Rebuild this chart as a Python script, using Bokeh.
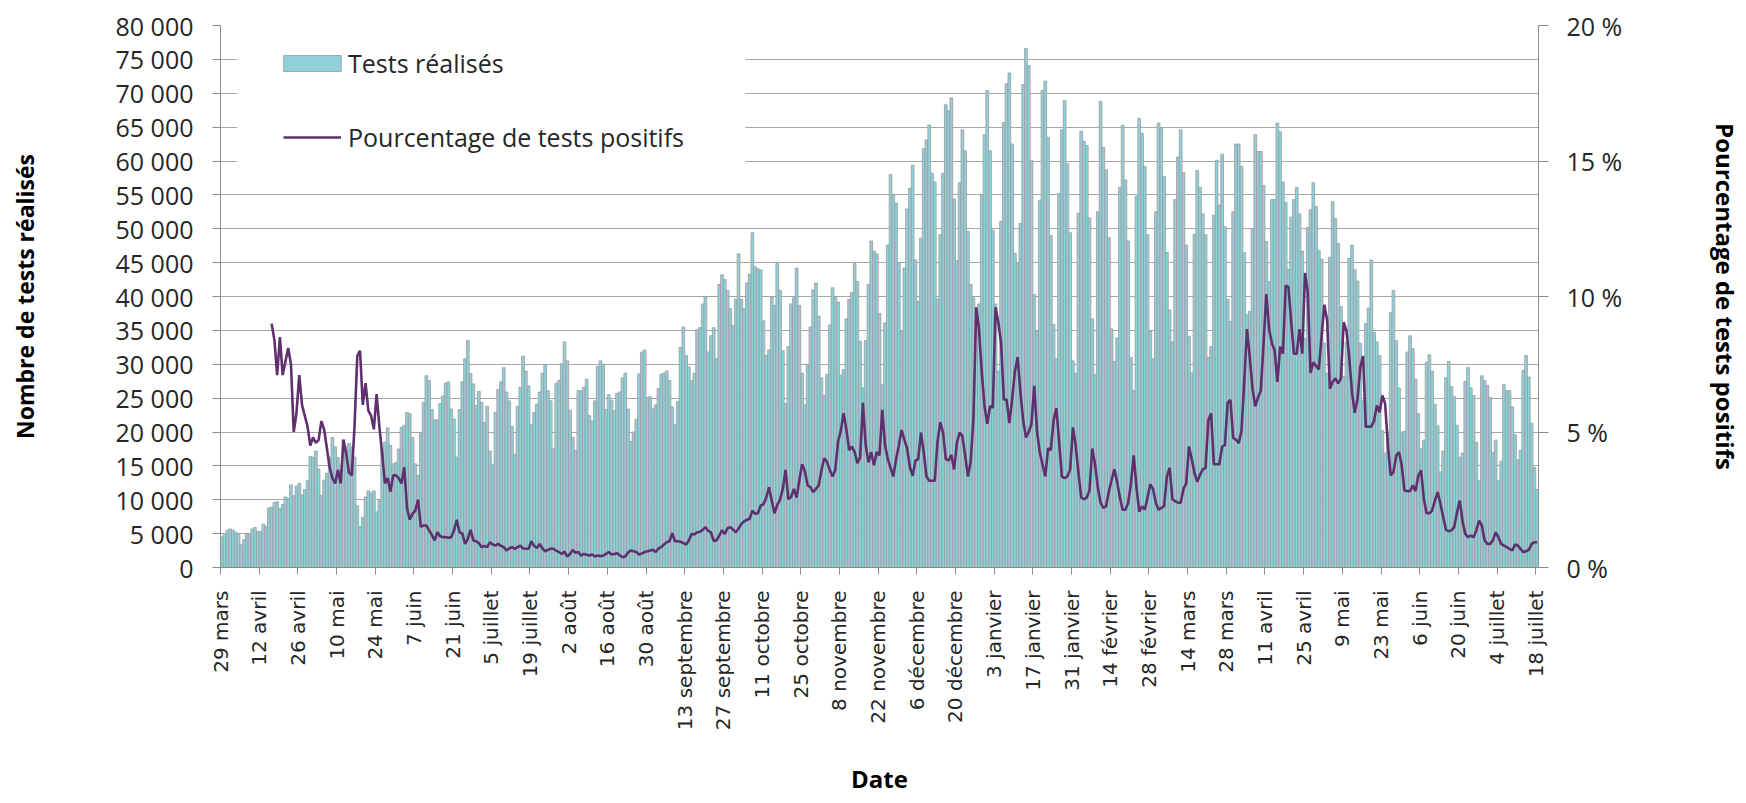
import math
from bokeh.plotting import figure
from bokeh.models import (Range1d, LinearAxis, FixedTicker, Legend, LegendItem,
                          BoxAnnotation, ColumnDataSource)
from bokeh.embed import file_html
from bokeh.resources import INLINE

# ---------------- DATA (daily, starting 29 March 2020) ----------------
tests_mar_may_2020 = [4500, 5000, 5500, 5700, 5500, 5200, 4900, 3400, 4100, 4900,
                      5000, 5700, 5900, 5300, 5300, 6400, 6100, 8800, 8900, 9600,
                      9700, 8700, 9300, 10400, 10200, 12200, 10600, 12000, 12400, 10700,
                      11500, 12800, 16400, 16300, 17200, 14500, 10600, 12900, 13900, 16300,
                      19200, 17800, 16200, 14500, 18900, 17900, 18300, 17800, 16300, 9100,
                      6000, 7400, 10400, 11300, 11000, 11300, 8200, 9900]
tests_may_jun_2020 = [17500, 18500, 20600, 18000, 15300, 15500, 17500, 20700, 21000, 22900, 22700]
tests_jun_aug_2020 = [19200, 15300, 13600, 19800, 24400, 28300, 27600, 23300, 21800, 21800,
                      24200, 25300, 27200, 27400, 23400, 21900, 16300, 23300, 27400, 30800,
                      33500, 28600, 27100, 23900, 26000, 24400, 21400, 23800, 17200, 15200,
                      22900, 26300, 27400, 29500, 25900, 24600, 20800, 16700, 23800, 26600,
                      31200, 29000, 26800, 21100, 22900, 24100, 25900, 28700, 29900, 26100,
                      24600, 17500, 27200, 27600, 30100, 33300, 30500, 23200, 19200, 17300,
                      26100, 26100, 26600, 27800, 22400, 21600, 24600, 29700]
tests_aug_oct_2020 = [30500, 30000, 23300, 25500, 24700, 23200, 25700, 25900, 28000, 28700,
                      23400, 18600, 20000, 21900, 28600, 31800, 32100, 25100, 25200, 23400,
                      24000, 26400, 28500, 28700, 29000, 27600, 23700, 21100, 24500, 32500,
                      35500, 31300, 29600, 27600, 28700, 35100, 35400, 38900, 40000, 31800,
                      34200, 35400, 30800, 41800, 43200, 42500, 40900, 38200, 35700, 39600,
                      46300, 39600, 38200, 42000, 43300, 49400, 44400, 44100, 43900, 36400,
                      31300, 32100, 39900, 38700, 44900, 40900, 32000, 24200]
tests_oct_dec_2020 = [32600, 38900, 39800, 44200, 38700, 28700, 24000, 30000, 35500, 41000,
                      42000, 37100, 28000, 25400, 28500, 35800, 41300, 39900, 39200, 28400,
                      29200, 36700, 39600, 40600, 44900, 42200, 33400, 26500, 33500, 41800,
                      48200, 46700, 46300, 37500, 27000, 36100, 47600, 58000, 55000, 53800,
                      45000, 34900, 44200, 52900, 56000, 59400, 45400, 39300, 48600, 61800,
                      63100, 65300, 58200, 56900, 39600, 49100, 58200, 68300, 67400, 69300,
                      54400, 45300, 56800, 64600, 61500, 49600, 41800, 39800, 35000]
tests_dec_mar_2021 = [38900, 55000, 63900, 70400, 61500, 49800, 38900, 29000, 51100, 65700,
                      71400, 73000, 62500, 46400, 45000, 50800, 71300, 76600, 74100, 60100,
                      40300, 34900, 54200, 70400, 71800, 63500, 49000, 35900, 30800, 55200,
                      64600, 68900, 59600, 49400, 30500, 28700, 52300, 64400, 62900, 62300,
                      51600, 36700, 28500, 52500, 68800, 62000, 58700, 48700, 35200, 30400,
                      33900, 56100, 65300, 57200, 48200, 31000, 26100, 54800, 66300, 64100,
                      59200, 49100, 34900, 30800, 52500, 65600, 64900, 57700, 46500]
tests_mar_may_2021 = [38000, 33300, 54300, 60600, 64600, 58300, 47600, 34100, 28700, 49200,
                      58600, 56100, 52200, 49100, 31000, 32600, 52000, 60100, 53500, 61000,
                      50300, 39600, 36300, 52500, 62500, 62500, 59200, 46500, 37300, 37800,
                      49900, 63900, 61400, 61400, 56400, 48100, 42200, 54300, 54300, 65600,
                      64300, 56900, 53900, 44000, 51700, 54300, 56100, 52200, 46700, 33800,
                      50200, 52800, 56800, 53300, 46800, 45500, 33100, 28700, 45800, 54000,
                      51500, 47800, 38500, 28200, 33300, 45600, 47600, 44000, 42300]
tests_may_jul_2021 = [33100, 24600, 36000, 38300, 45400, 34700, 33300, 31300, 20200, 16900,
                      20000, 37600, 40900, 33500, 26500, 20000, 20100, 31800, 34200, 32300,
                      27800, 22700, 17500, 18800, 30300, 31400, 29000, 24100, 20900, 14100,
                      17200, 28000, 30400, 26700, 25200, 21000, 16300, 16900, 27500, 29500,
                      26500, 25400, 18500, 12800, 28300, 27600, 26900, 25100, 17000, 18800,
                      12800, 15700, 27000, 26100, 26100, 23700, 19600, 15900, 17300, 29100,
                      31300, 28100, 21300, 14800, 11500]

# percentage of positive tests, starting 16 April 2020 (day 18)
pct_first_day = 18
pct_apr_may_2020 = [9.0, 8.4, 7.1, 8.5, 7.1, 7.6, 8.1, 7.5, 5.0, 5.7,
                    7.1, 6.0, 5.6, 5.2, 4.5, 4.8, 4.6, 4.7, 5.4, 5.1,
                    4.4, 3.7, 3.3, 3.1, 3.6, 3.1, 4.7, 4.2, 3.5, 3.4,
                    5.2, 7.8, 8.0, 6.0, 6.8, 5.8, 5.6, 5.1, 6.4, 5.2,
                    4.2, 3.1, 3.3, 2.8, 3.4, 3.4, 3.3, 3.1, 3.7, 2.2]
pct_jun_aug_2020 = [1.76, 1.98, 2.1, 2.5, 1.5, 1.55, 1.55, 1.37, 1.2, 1.0,
                    1.3, 1.15, 1.12, 1.12, 1.1, 1.12, 1.37, 1.76, 1.3, 1.26,
                    0.87, 1.06, 1.39, 1.0, 0.97, 0.9, 0.75, 0.8, 0.75, 0.93,
                    0.85, 0.81, 0.87, 0.8, 0.75, 0.63, 0.7, 0.75, 0.69, 0.75,
                    0.81, 0.7, 0.69, 0.69, 0.97, 0.8, 0.72, 0.87, 0.7, 0.6,
                    0.65, 0.69, 0.69, 0.62, 0.57, 0.5, 0.59, 0.4, 0.5, 0.65,
                    0.54, 0.57, 0.44, 0.5, 0.47, 0.44, 0.48, 0.41, 0.44]
pct_aug_oct_2020 = [0.42, 0.44, 0.5, 0.57, 0.48, 0.5, 0.53, 0.45, 0.38, 0.41,
                    0.55, 0.63, 0.6, 0.57, 0.48, 0.52, 0.57, 0.6, 0.63, 0.65,
                    0.57, 0.7, 0.75, 0.85, 0.93, 0.97, 1.27, 0.97, 0.97, 0.95,
                    0.9, 0.85, 1.0, 1.24, 1.22, 1.3, 1.32, 1.39, 1.49, 1.35,
                    1.3, 0.98, 1.0, 1.18, 1.37, 1.24, 1.45, 1.49, 1.4, 1.3,
                    1.43, 1.61, 1.7, 1.76, 1.8, 2.1, 1.98, 2.0, 2.29, 2.33,
                    2.57, 2.96, 2.47, 2.0, 2.31, 2.5, 2.9, 3.6]
pct_oct_dec_2020 = [2.52, 2.6, 2.9, 2.58, 3.23, 3.81, 3.55, 3.03, 2.97, 2.78,
                    2.9, 3.03, 3.6, 4.03, 3.9, 3.6, 3.36, 3.6, 4.65, 5.04,
                    5.69, 5.1, 4.33, 4.46, 4.26, 3.85, 4.07, 6.08, 4.52, 3.88,
                    4.26, 3.77, 4.26, 4.14, 5.82, 4.52, 4.0, 3.68, 3.36, 4.0,
                    4.5, 5.07, 4.72, 4.39, 3.7, 3.38, 3.94, 4.0, 4.98, 4.26,
                    3.36, 3.2, 3.2, 3.2, 4.65, 5.36, 4.98, 4.0, 3.95, 4.16,
                    3.62, 4.59, 4.98, 4.85, 4.14, 3.36, 3.9, 5.5, 9.6]
pct_dec_mar_2021 = [8.8, 7.24, 5.95, 5.3, 5.95, 5.9, 9.6, 9.05, 8.28, 6.2,
                    6.2, 5.33, 6.2, 7.24, 7.76, 6.47, 5.43, 4.8, 5.0, 5.3,
                    6.7, 5.04, 4.26, 3.8, 3.36, 4.4, 4.33, 5.43, 5.88, 4.65,
                    3.36, 3.3, 3.36, 3.62, 5.17, 4.52, 3.49, 2.58, 2.52, 2.58,
                    2.84, 4.39, 3.81, 2.97, 2.39, 2.2, 2.26, 2.8, 3.23, 3.62,
                    3.16, 2.58, 2.13, 2.13, 2.39, 3.1, 4.14, 2.97, 2.06, 2.26,
                    2.13, 2.58, 3.07, 2.9, 2.39, 2.13, 2.2, 2.26, 3.36]
pct_mar_may_2021 = [3.68, 2.52, 2.45, 2.39, 2.39, 2.9, 3.1, 4.46, 4.0, 3.49,
                    3.16, 3.42, 3.62, 3.68, 5.43, 5.69, 3.81, 3.81, 3.81, 4.46,
                    4.52, 6.08, 6.18, 4.78, 4.72, 4.59, 5.04, 6.85, 8.8, 7.76,
                    6.6, 5.95, 6.27, 6.53, 8.28, 10.09, 8.8, 8.28, 8.02, 6.85,
                    8.15, 7.89, 10.4, 10.35, 9.05, 7.89, 7.89, 8.8, 7.89, 10.87,
                    10.15, 7.18, 7.57, 7.44, 7.31, 8.54, 9.7, 9.12, 6.6, 6.85,
                    6.98, 6.79, 6.98, 9.05, 8.73, 7.76, 6.47, 5.71, 6.21]
pct_may_jul_2021 = [7.39, 7.8, 5.2, 5.2, 5.2, 5.42, 5.98, 5.73, 6.35, 6.04,
                    4.5, 3.4, 3.52, 4.13, 4.26, 3.76, 2.84, 2.82, 2.82, 3.03,
                    2.82, 3.39, 3.58, 2.53, 2.0, 2.0, 2.1, 2.47, 2.78, 2.35,
                    1.86, 1.39, 1.34, 1.37, 1.49, 2.04, 2.47, 1.71, 1.24, 1.12,
                    1.18, 1.12, 1.37, 1.73, 1.55, 1.0, 0.87, 0.87, 1.0, 1.3,
                    1.12, 0.87, 0.81, 0.75, 0.69, 0.63, 0.85, 0.81, 0.69, 0.57,
                    0.6, 0.65, 0.87, 0.93, 0.93]

date_labels = ["29 mars", "12 avril", "26 avril", "10 mai", "24 mai", "7 juin", "21 juin",
               "5 juillet", "19 juillet", "2 août", "16 août", "30 août", "13 septembre",
               "27 septembre", "11 octobre", "25 octobre", "8 novembre", "22 novembre",
               "6 décembre", "20 décembre", "3 janvier", "17 janvier", "31 janvier",
               "14 février", "28 février", "14 mars", "28 mars", "11 avril", "25 avril",
               "9 mai", "23 mai", "6 juin", "20 juin", "4 juillet", "18 juillet"]
date_label_step = 14

left_ticks = [0, 5000, 10000, 15000, 20000, 25000, 30000, 35000, 40000, 45000,
              50000, 55000, 60000, 65000, 70000, 75000, 80000]
left_labels = ["0", "5 000", "10 000", "15 000", "20 000", "25 000", "30 000", "35 000",
               "40 000", "45 000", "50 000", "55 000", "60 000", "65 000", "70 000",
               "75 000", "80 000"]
right_ticks = [0, 5, 10, 15, 20]
right_labels = ["0 %", "5 %", "10 %", "15 %", "20 %"]

# ---------------- BUILD ----------------
tests = (tests_mar_may_2020 + tests_may_jun_2020 + tests_jun_aug_2020 + tests_aug_oct_2020
         + tests_oct_dec_2020 + tests_dec_mar_2021 + tests_mar_may_2021 + tests_may_jul_2021)
pct = (pct_apr_may_2020 + pct_jun_aug_2020 + pct_aug_oct_2020 + pct_oct_dec_2020
       + pct_dec_mar_2021 + pct_mar_may_2021 + pct_may_jul_2021)
n_days = len(tests)

bar_src = ColumnDataSource(dict(x=[i + 0.5 for i in range(n_days)], top=tests))
line_src = ColumnDataSource(dict(x=[pct_first_day + i + 0.5 for i in range(len(pct))], y=pct))

TXT = "#262626"
GRID = "#a6a6a6"
AXIS = "#8c8c8c"

p = figure(frame_width=1318, frame_height=542, output_backend="svg", toolbar_location=None,
           x_range=Range1d(0, n_days), y_range=Range1d(0, 80000),
           min_border_left=220, min_border_right=10, min_border_top=25,
           min_border_bottom=10)
p.outline_line_color = None
p.background_fill_color = "white"
p.extra_y_ranges = {"pct": Range1d(0, 20)}

bars = p.vbar(x="x", top="top", width=1.0, source=bar_src,
              fill_color="#8fd0db", line_color="#9c9c9c", line_width=0.8)
line = p.line(x="x", y="y", source=line_src, y_range_name="pct",
              line_color="#60306e", line_width=2.6)

# grid
p.xgrid.visible = False
p.ygrid.ticker = FixedTicker(ticks=left_ticks)
p.ygrid.grid_line_color = GRID
p.ygrid.grid_line_width = 1

# x axis
xa = p.xaxis[0]
xticks = [i * date_label_step for i in range(len(date_labels))]
xa.ticker = FixedTicker(ticks=xticks)
xa.major_label_overrides = {t: lab for t, lab in zip(xticks, date_labels)}
xa.major_label_orientation = math.pi / 2
xa.major_label_text_font = "DejaVu Sans"
xa.major_label_text_font_size = "20px"
xa.major_label_text_color = TXT
xa.major_label_standoff = 16
xa.major_tick_in = 0
xa.major_tick_out = 7
xa.minor_tick_line_color = None
xa.axis_line_color = AXIS
xa.major_tick_line_color = AXIS
xa.axis_label = "Date"
xa.axis_label_text_font = "Open Sans"
xa.axis_label_text_font_style = "bold"
xa.axis_label_text_font_size = "24px"
xa.axis_label_text_color = "black"
xa.axis_label_standoff = 29

# left axis
ya = p.yaxis[0]
ya.ticker = FixedTicker(ticks=left_ticks)
ya.major_label_overrides = {t: lab for t, lab in zip(left_ticks, left_labels)}
ya.major_label_text_font = "Open Sans"
ya.major_label_text_font_size = "25px"
ya.major_label_text_color = TXT
ya.major_label_standoff = 19
ya.major_tick_in = 0
ya.major_tick_out = 8
ya.minor_tick_line_color = None
ya.axis_line_color = AXIS
ya.major_tick_line_color = AXIS
ya.axis_label = "Nombre de tests réalisés"
ya.axis_label_text_font = "Open Sans"
ya.axis_label_text_font_style = "bold"
ya.axis_label_text_font_size = "23px"
ya.axis_label_text_color = "black"
ya.axis_label_standoff = 72

# right axis
ra = LinearAxis(y_range_name="pct", ticker=FixedTicker(ticks=right_ticks))
ra.major_label_overrides = {t: lab for t, lab in zip(right_ticks, right_labels)}
ra.major_label_text_font = "Open Sans"
ra.major_label_text_font_size = "25px"
ra.major_label_text_color = TXT
ra.major_label_standoff = 18
ra.major_tick_in = 0
ra.major_tick_out = 10
ra.minor_tick_line_color = None
ra.axis_line_color = AXIS
ra.major_tick_line_color = AXIS
ra.axis_label = "Pourcentage de tests positifs"
ra.axis_label_text_font = "Open Sans"
ra.axis_label_text_font_style = "bold"
ra.axis_label_text_font_size = "24px"
ra.axis_label_text_color = "black"
ra.axis_label_standoff = 84
p.add_layout(ra, "right")

# white area behind the legend (hides grid lines as in the original)
p.add_layout(BoxAnnotation(left=6, right=190, bottom=57500, top=77500,
                           fill_color="white", fill_alpha=1.0, line_color=None))

legend_bars = Legend(items=[LegendItem(label="Tests réalisés", renderers=[bars])],
                     location=(56, 487), orientation="vertical",
                     glyph_width=72, glyph_height=20, label_standoff=0,
                     padding=0, margin=0, background_fill_alpha=0, border_line_alpha=0,
                     label_text_font="Open Sans", label_text_font_size="25px",
                     label_text_color=TXT)
legend_line = Legend(items=[LegendItem(label="Pourcentage de tests positifs", renderers=[line])],
                     location=(63, 413), orientation="vertical",
                     glyph_width=58, glyph_height=20, label_standoff=7,
                     padding=0, margin=0, background_fill_alpha=0, border_line_alpha=0,
                     label_text_font="Open Sans", label_text_font_size="25px",
                     label_text_color=TXT)
p.add_layout(legend_bars)
p.add_layout(legend_line)

open("out.html", "w").write(file_html(p, INLINE))
